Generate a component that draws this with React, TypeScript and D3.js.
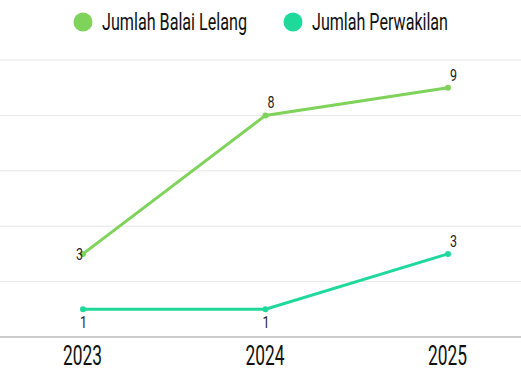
import React from "react";
import * as d3 from "d3";

const years = ["2023", "2024", "2025"];
const balaiLelang = [3, 8, 9];
const perwakilan = [1, 1, 3];
const yTicks = [0, 2, 4, 6, 8, 10];
const seriesNames = ["Jumlah Balai Lelang", "Jumlah Perwakilan"];
const colors = ["#7fd35a", "#1fd99a"];
// label placement per point: "above" | "below" | "left"
const balaiPos = ["left", "above", "above"];
const perwPos = ["below", "below", "above"];

const W = 521;
const H = 377;
const FONT = "'Roboto', 'DejaVu Sans', sans-serif";

export default function App() {
  const x = d3.scalePoint<string>().domain(years).range([83, 448]);
  const y = d3.scaleLinear().domain([0, 10]).range([337, 60]);
  const line = d3
    .line<number>()
    .x((_, i) => x(years[i]) as number)
    .y((d) => y(d));
  const series = [
    { name: seriesNames[0], data: balaiLelang, color: colors[0], pos: balaiPos },
    { name: seriesNames[1], data: perwakilan, color: colors[1], pos: perwPos },
  ];
  const legendX = [83, 293];
  const legendLen = [145, 136];
  return (
    <svg
      width={W}
      height={H}
      style={{ position: "absolute", left: 0, top: 0, background: "#fff" }}
      fontFamily={FONT}
    >
      {yTicks.map((t) =>
        t === 0 ? null : (
          <line key={t} x1={0} x2={W} y1={y(t)} y2={y(t)} stroke="#e6e6e6" strokeWidth={1} />
        )
      )}
      <line x1={0} x2={W} y1={y(0)} y2={y(0)} stroke="#cccccc" strokeWidth={2} />
      {years.map((yr) => (
        <text
          key={yr}
          x={(x(yr) as number) - 20}
          y={365}
          fontSize={27}
          fill="#111"
          textLength={39}
          lengthAdjust="spacingAndGlyphs"
        >
          {yr}
        </text>
      ))}
      {series.map((s) => (
        <g key={s.name}>
          <path d={line(s.data) || ""} fill="none" stroke={s.color} strokeWidth={3} />
          {s.data.map((v, i) => (
            <circle key={i} cx={x(years[i])} cy={y(v)} r={3} fill={s.color} />
          ))}
          {s.data.map((v, i) => {
            const px = x(years[i]) as number;
            const py = y(v);
            const p = s.pos[i];
            let tx = px + 2;
            let ty = py - 7;
            if (p === "below") {
              tx = px - 3;
              ty = py + 19;
            } else if (p === "left") {
              tx = px - 7;
              ty = py + 6;
            }
            return (
              <text
                key={"l" + i}
                x={tx}
                y={ty}
                fontSize={17}
                fill="#222"
                textLength={7}
                lengthAdjust="spacingAndGlyphs"
              >
                {v}
              </text>
            );
          })}
        </g>
      ))}
      {series.map((s, i) => (
        <g key={"lg" + i}>
          <circle cx={legendX[i]} cy={22} r={9.5} fill={s.color} />
          <text
            x={legendX[i] + 19}
            y={30}
            fontSize={24}
            fill="#111"
            textLength={legendLen[i]}
            lengthAdjust="spacingAndGlyphs"
          >
            {s.name}
          </text>
        </g>
      ))}
    </svg>
  );
}
